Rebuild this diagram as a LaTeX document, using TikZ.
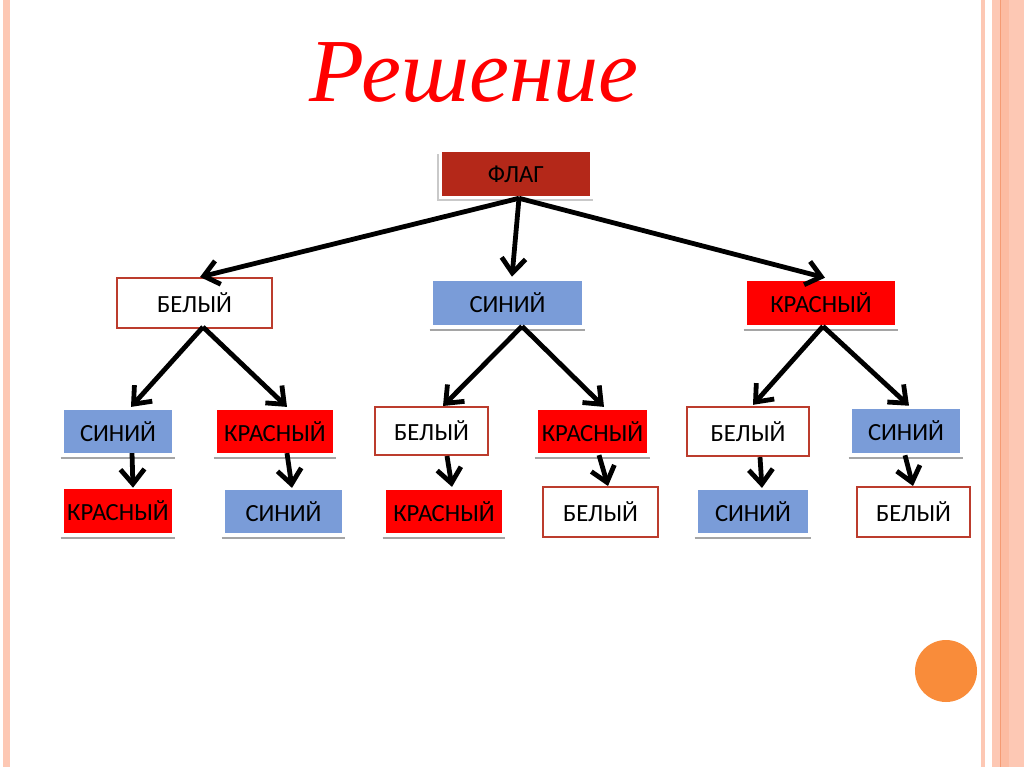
\documentclass[tikz,border=0pt]{standalone}
\usepackage{fontspec}
\setmainfont{Carlito}
\newfontfamily\titlefont{Liberation Serif}
\usetikzlibrary{arrows.meta,calc}
\definecolor{flagred}{RGB}{180,40,25}
\definecolor{sinblue}{RGB}{122,156,216}
\definecolor{krred}{RGB}{255,0,0}
\definecolor{brd}{RGB}{188,60,45}
\definecolor{strip}{RGB}{253,200,180}
\definecolor{stripdark}{RGB}{252,188,162}
\definecolor{stripline}{RGB}{245,155,115}
\definecolor{dot}{RGB}{249,140,58}
\definecolor{shd}{RGB}{165,165,165}
\begin{document}
\begin{tikzpicture}[x=0.75pt,y=-0.75pt,
  base/.style={rectangle, inner sep=0pt, text=black, font=\fontsize{18.5}{20}\selectfont},
  fillbox/.style={base, draw=none},
  whitebox/.style={base, fill=white, draw=brd, line width=1.5pt},
  arr/.style={line width=3.6pt, -{Straight Barb[length=11pt,width=18pt]}},
  shadowline/.style={draw=shd, line width=1.5pt}
]
\useasboundingbox (0,0) rectangle (1024,767);
\fill[white] (0,0) rectangle (1024,767);
% border strips
\fill[strip] (3,0) rectangle (10,767);
\fill[strip] (981,0) rectangle (985,767);
\fill[strip] (992,0) rectangle (1024,767);
\fill[stripdark] (1001,0) rectangle (1009,767);
\draw[stripline, line width=0.9pt] (1000.5,0) -- (1000.5,767);
% dot
\fill[dot] (946,671) circle (31);
% title
\node[anchor=base, text=red, font=\titlefont\itshape\fontsize{67.5}{70}\selectfont] (title) at (474,102) {Решение};

% level 0
\draw[shd!60, line width=1.5pt] (438,154) -- (438,200) -- (593,200);
\node[fillbox, fill=flagred, minimum width=111pt, minimum height=33pt] (flag) at (516,174) {ФЛАГ};

% level 1
\node[whitebox, minimum width=116pt, minimum height=37.5pt] (b1) at (194.5,303) {БЕЛЫЙ};
\node[fillbox, fill=sinblue, minimum width=112pt, minimum height=33pt] (s1) at (507.5,303) {СИНИЙ};
\node[fillbox, fill=krred, minimum width=111pt, minimum height=33pt] (k1) at (821,303) {КРАСНЫЙ};

% level 2
\node[fillbox, fill=sinblue, minimum width=81pt, minimum height=32pt] (s2) at (118,431.5) {СИНИЙ\hspace{9pt}};
\node[fillbox, fill=krred, minimum width=87pt, minimum height=32pt] (k2) at (275,431.5) {КРАСНЫЙ};
\node[whitebox, minimum width=85pt, minimum height=36pt] (b2) at (431.5,431) {БЕЛЫЙ};
\node[fillbox, fill=krred, minimum width=82pt, minimum height=32pt] (k2b) at (592.5,431.5) {КРАСНЫЙ};
\node[whitebox, minimum width=91.5pt, minimum height=37pt] (b3) at (748,431.5) {БЕЛЫЙ};
\node[fillbox, fill=sinblue, minimum width=81pt, minimum height=33pt] (s3) at (906,431) {СИНИЙ};

% level 3
\node[fillbox, fill=krred, minimum width=81pt, minimum height=33pt] (k3) at (118,511) {КРАСНЫЙ};
\node[fillbox, fill=sinblue, minimum width=88pt, minimum height=32pt] (s4) at (283.5,511.5) {СИНИЙ};
\node[fillbox, fill=krred, minimum width=87pt, minimum height=32pt] (k4) at (444,511.5) {КРАСНЫЙ};
\node[whitebox, minimum width=86pt, minimum height=37.5pt] (b4) at (600.5,512) {БЕЛЫЙ};
\node[fillbox, fill=sinblue, minimum width=82.5pt, minimum height=32pt] (s5) at (753,511.5) {СИНИЙ};
\node[whitebox, minimum width=85pt, minimum height=37.5pt] (b5) at (913.5,512) {БЕЛЫЙ};

% shadow lines under filled boxes
\foreach \n in {s1,k1,s2,k2,k2b,s3,k3,s4,k4,s5}{
  \draw[shadowline] ($(\n.south west)+(-3,5)$) -- ($(\n.south east)+(3,5)$);
}

% connectors
\coordinate (fa) at ($(flag.south)+(3,2)$);
\draw[arr] (fa) -- ($(b1.north)+(5.5,0)$);
\draw[arr] (fa) -- ($(s1.north)+(4.5,-4)$);
\draw[arr] (fa) -- ($(k1.north)+(4,-3)$);

\coordinate (ba) at ($(b1.south)+(8.5,-2)$);
\draw[arr] (ba) -- ($(s2.north)+(13,-3)$);
\draw[arr] (ba) -- ($(k2.north)+(12,-3)$);
\coordinate (sa) at ($(s1.south)+(14.5,1)$);
\draw[arr] (sa) -- ($(b2.north)+(11.5,0)$);
\draw[arr] (sa) -- ($(k2b.north)+(11.5,-3)$);
\coordinate (ka) at ($(k1.south)+(2,1)$);
\draw[arr] (ka) -- ($(b3.north)+(5,-1)$);
\draw[arr] (ka) -- ($(s3.north)+(3,-3)$);

\draw[arr] ($(s2.south)+(14,0)$) -- ($(k3.north)+(15,-1)$);
\draw[arr] ($(k2.south)+(12,0)$) -- ($(s4.north)+(8.5,-2)$);
\draw[arr] ($(b2.south)+(15.5,0)$) -- ($(k4.north)+(8,-3)$);
\draw[arr] ($(k2b.south)+(6.5,2)$) -- ($(b4.north)+(7.5,0)$);
\draw[arr] ($(b3.south)+(12,0)$) -- ($(s5.north)+(9,-2)$);
\draw[arr] ($(s3.south)+(-1,2)$) -- ($(b5.north)+(-0.5,0)$);
\end{tikzpicture}
\end{document}
